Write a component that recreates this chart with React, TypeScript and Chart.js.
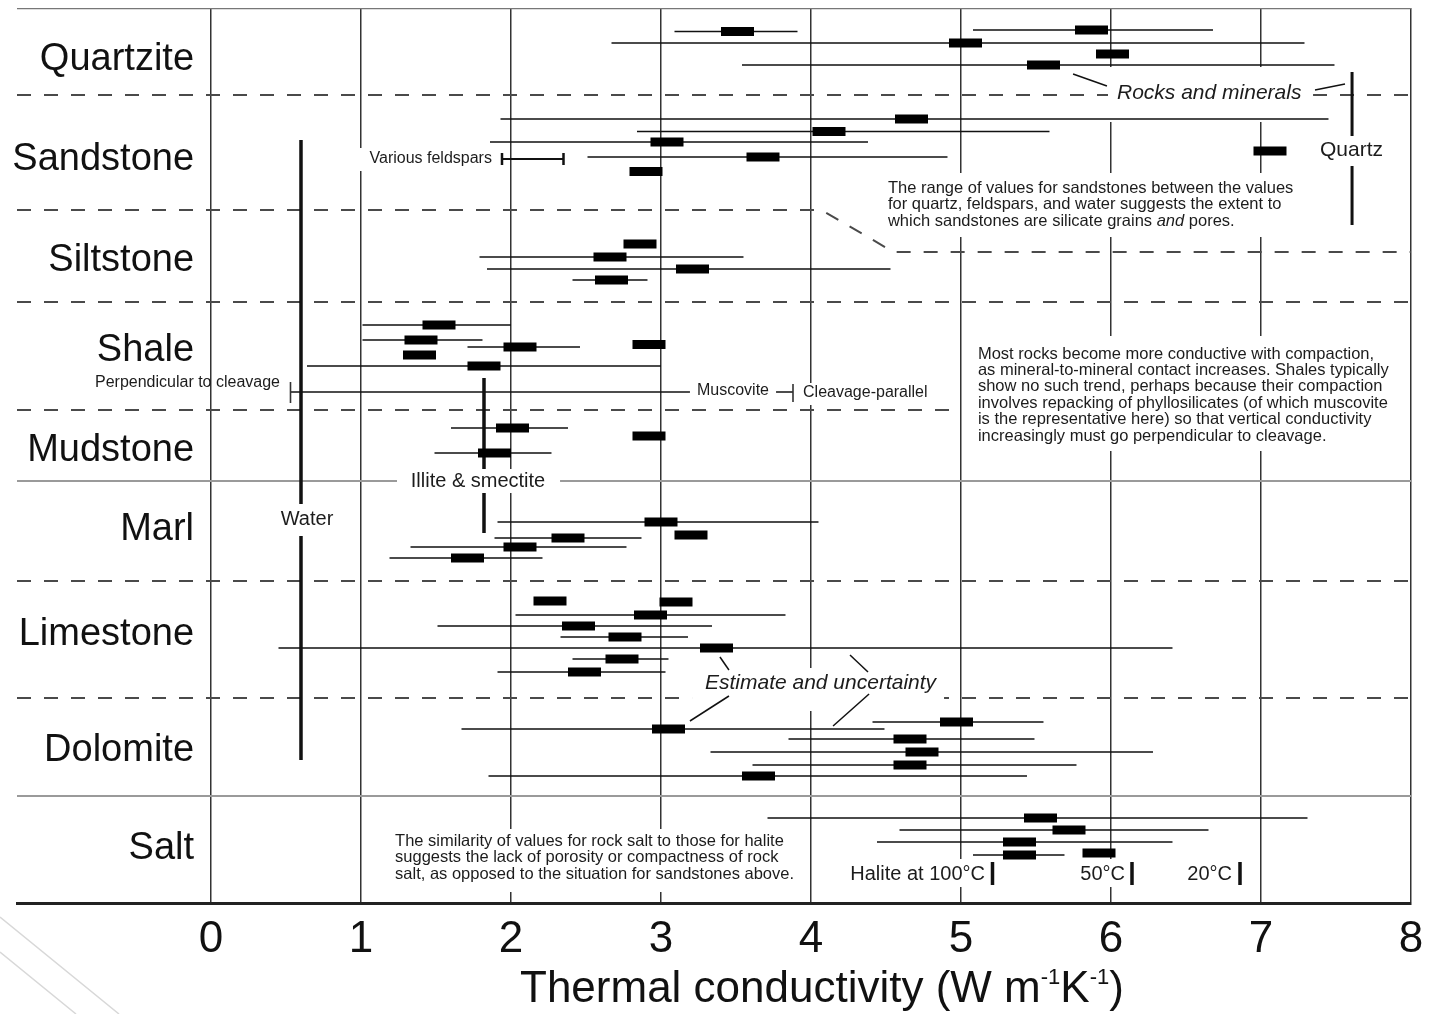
import React, { useEffect, useRef } from 'react';
import { Chart, registerables } from 'chart.js';

Chart.register(...registerables);

const FONT = '"Liberation Sans", Arimo, Arial, Helvetica, sans-serif';
const INK = '#111';
const TEXT = '#1c1c1c';

// ---------- axes ----------
const X_MIN = -1.2933;
const X_MAX = 8;
const Y_MAX = 89.5; // vertical position units (top = 0)
const xTicks = [0, 1, 2, 3, 4, 5, 6, 7, 8];

// ---------- rock categories ----------
const rockNames = ['Quartzite', 'Sandstone', 'Siltstone', 'Shale', 'Mudstone', 'Marl', 'Limestone', 'Dolomite', 'Salt'];
const rockNameRows = [5.2, 15.2, 25.3, 34.3, 44.3, 52.2, 62.7, 74.3, 84.1];

// ---------- measurements (row position, estimate, uncertainty range) ----------
const sampleRows = [2.2, 2.35, 3.5, 4.6, 5.7, 11.1, 12.35, 13.4, 14.9, 16.35, 14.3, 23.6, 24.9, 26.1, 27.2, 31.7, 33.2, 33.65, 33.9, 34.7, 35.8, 42.0, 42.8, 44.5, 51.4, 52.7, 53.0, 53.9, 55.0, 59.3, 59.4, 60.7, 61.8, 62.9, 64.0, 65.1, 66.4, 71.4, 72.1, 73.1, 74.4, 75.7, 76.8, 81.0, 82.2, 83.4, 84.7, 84.5];
const sampleEstimates = [5.87, 3.51, 5.03, 6.01, 5.55, 4.67, 4.12, 3.04, 3.68, 2.90, 7.06, 2.86, 2.66, 3.21, 2.67, 1.52, 1.40, 2.92, 2.06, 1.39, 1.82, 2.01, 2.92, 1.89, 3.00, 3.20, 2.38, 2.06, 1.71, 2.26, 3.10, 2.93, 2.45, 2.76, 3.37, 2.74, 2.49, 4.97, 3.05, 4.66, 4.74, 4.66, 3.65, 5.53, 5.72, 5.39, 5.39, 5.92];
const sampleLow = [5.08, 3.09, 2.67, null, 3.54, 1.93, 2.84, 1.86, 2.51, null, null, null, 1.79, 1.84, 2.41, 1.01, 1.01, null, 1.71, null, 0.64, 1.60, null, 1.49, 1.91, null, 1.89, 1.33, 1.19, null, null, 2.03, 1.51, 2.33, 0.45, 2.41, 1.91, 4.41, 1.67, 3.85, 3.33, 3.61, 1.85, 3.71, 4.59, 4.44, 5.08, null];
const sampleHigh = [6.68, 3.91, 7.29, null, 7.49, 7.45, 5.59, 4.38, 4.91, null, null, null, 3.55, 4.53, 2.91, 2.00, 1.81, null, 2.46, null, 3.00, 2.38, null, 2.27, 4.05, null, 2.87, 2.77, 2.21, null, null, 3.83, 3.34, 3.18, 6.41, 3.05, 3.03, 5.55, 4.49, 5.49, 6.28, 5.77, 5.44, 7.31, 6.65, 6.41, 5.69, null];

// ---------- minerals / references ----------
const waterValue = 0.6;
const waterRows = [13.2, 75.2];
const illiteValue = 1.82;
const illiteRows = [37.0, 52.5];
const quartzBracketValue = 7.607;
const quartzBracketRows = [6.4, 21.7];
const feldsparRange = [1.94, 2.35];
const feldsparRow = 15.1;
const feldsparCapRows = [14.5, 15.7];
const muscoviteRange = [0.53, 3.88];
const muscoviteRow = 38.4;
const muscoviteCapRows = [[37.4, 39.5], [37.6, 39.4]];
const haliteLabels = ['Halite at 100°C', '50°C', '20°C'];
const haliteValues = [5.21, 6.14, 6.86];
const haliteRows = [85.4, 87.7];

// ---------- separators ----------
const dashedSeparators: number[][][] = [
  [[X_MIN, 8.7], [X_MAX, 8.7]],
  [[X_MIN, 20.2], [4.07, 20.2], [4.55, 24.4], [X_MAX, 24.4]],
  [[X_MIN, 29.4], [X_MAX, 29.4]],
  [[X_MIN, 40.2], [4.96, 40.2]],
  [[X_MIN, 57.3], [X_MAX, 57.3]],
  [[X_MIN, 69.0], [X_MAX, 69.0]],
];
const solidSeparatorRows = [47.3, 78.8];
const BOX_HALF = 0.11;

// ---------- annotation layout (value coordinates) ----------
const gridMasks = [
  [5.93, 7.10, 5.9, 11.4],
  [4.46, 7.26, 16.5, 22.9],
  [5.03, 7.95, 32.8, 44.3],
  [1.18, 3.93, 82.1, 88.4],
  [4.18, 6.90, 85.1, 87.9],
  [3.23, 4.89, 66.0, 70.3],
];

type Run = { t: string; italic?: boolean; sup?: boolean };
type Label = { lines: Run[][]; x: number; y: number; align: 'left' | 'right' | 'center'; size: number; gap?: number; bg?: number[] };

const P = (s: string): Run[] => [{ t: s }];

const labels: Label[] = [
  { lines: [[{ t: 'Rocks and minerals', italic: true }]], x: 6.04, y: 8.5, align: 'left', size: 21, bg: [5.98, 7.347, 7.4, 9.8] },
  { lines: [P('Quartz')], x: 7.393, y: 14.2, align: 'left', size: 21, bg: [7.367, 7.847, 12.8, 15.8] },
  { lines: [P('Various feldspars')], x: 1.873, y: 15.1, align: 'right', size: 16, bg: [0.973, 1.907, 14.0, 16.3] },
  { lines: [P('Perpendicular to cleavage')], x: 0.46, y: 37.5, align: 'right', size: 16 },
  { lines: [P('Muscovite')], x: 3.24, y: 38.3, align: 'left', size: 16, bg: [3.193, 3.767, 37.3, 39.4] },
  { lines: [P('Cleavage-parallel')], x: 3.947, y: 38.5, align: 'left', size: 16, bg: [3.913, 4.833, 37.5, 39.7] },
  { lines: [P('Illite & smectite')], x: 1.78, y: 47.3, align: 'center', size: 20, bg: [1.24, 2.327, 46.1, 48.5] },
  { lines: [P('Water')], x: 0.64, y: 51.1, align: 'center', size: 20, bg: [0.44, 0.84, 49.6, 52.8] },
  { lines: [[{ t: 'Estimate and uncertainty', italic: true }]], x: 3.293, y: 67.5, align: 'left', size: 21, bg: [3.207, 4.887, 66.4, 69.7] },
  { lines: [P(haliteLabels[0])], x: 5.16, y: 86.6, align: 'right', size: 20 },
  { lines: [P(haliteLabels[1])], x: 6.093, y: 86.6, align: 'right', size: 20 },
  { lines: [P(haliteLabels[2])], x: 6.807, y: 86.6, align: 'right', size: 20 },
  {
    lines: [
      P('The range of values for sandstones between the values'),
      P('for quartz, feldspars, and water suggests the extent to'),
      [{ t: 'which sandstones are silicate grains ' }, { t: 'and', italic: true }, { t: ' pores.' }],
    ], x: 4.513, y: 18.0, align: 'left', size: 16.5, gap: 1.65,
  },
  {
    lines: [
      P('Most rocks become more conductive with compaction,'),
      P('as mineral-to-mineral contact increases. Shales typically'),
      P('show no such trend, perhaps because their compaction'),
      P('involves repacking of phyllosilicates (of which muscovite'),
      P('is the representative here) so that vertical conductivity'),
      P('increasingly must go perpendicular to cleavage.'),
    ], x: 5.113, y: 34.6, align: 'left', size: 16.5, gap: 1.645,
  },
  {
    lines: [
      P('The similarity of values for rock salt to those for halite'),
      P('suggests the lack of porosity or compactness of rock'),
      P('salt, as opposed to the situation for sandstones above.'),
    ], x: 1.227, y: 83.3, align: 'left', size: 16.5, gap: 1.65,
  },
];

const leaderLines = [
  [5.747, 6.6, 5.973, 7.8],
  [7.36, 8.2, 7.56, 7.6],
  [3.393, 64.9, 3.453, 66.2],
  [4.26, 64.7, 4.38, 66.4],
  [3.453, 68.8, 3.193, 71.3],
  [4.387, 68.6, 4.147, 71.8],
];

const rockNameX = -0.113;
const titleCenterX = 4.073;
const titleRuns: Run[] = [
  { t: 'Thermal conductivity (W m' }, { t: '-1', sup: true }, { t: 'K' }, { t: '-1', sup: true }, { t: ')' },
];

// ---------- helpers ----------
type Pt = { x: number | null; y: number | null };
function gapped(segments: Pt[][]): Pt[] {
  const out: Pt[] = [];
  segments.forEach((s, i) => {
    if (i) out.push({ x: null, y: null });
    out.push(...s);
  });
  return out;
}

function runFont(r: Run, size: number) {
  return `${r.italic ? 'italic ' : ''}${r.sup ? Math.round(size * 0.5) : size}px ${FONT}`;
}

function drawRuns(ctx: CanvasRenderingContext2D, runs: Run[], x: number, y: number, align: string, size: number) {
  let w = 0;
  for (const r of runs) {
    ctx.font = runFont(r, size);
    w += ctx.measureText(r.t).width;
  }
  let cx = align === 'left' ? x : align === 'right' ? x - w : x - w / 2;
  for (const r of runs) {
    ctx.font = runFont(r, size);
    ctx.fillText(r.t, cx, r.sup ? y - size * 0.4 : y);
    cx += ctx.measureText(r.t).width;
  }
}

const annotationPlugin = {
  id: 'annotations',
  beforeDatasetsDraw(chart: any) {
    const { ctx, scales } = chart;
    const xs = scales.x, ys = scales.y;
    ctx.save();
    ctx.fillStyle = '#fff';
    for (const m of gridMasks) {
      const x1 = xs.getPixelForValue(m[0]), x2 = xs.getPixelForValue(m[1]);
      const y1 = ys.getPixelForValue(m[2]), y2 = ys.getPixelForValue(m[3]);
      ctx.fillRect(x1, y1, x2 - x1, y2 - y1);
    }
    ctx.restore();
  },
  afterDatasetsDraw(chart: any) {
    const { ctx, scales } = chart;
    const xs = scales.x, ys = scales.y;
    ctx.save();
    // label backgrounds
    ctx.fillStyle = '#fff';
    for (const l of labels) {
      if (!l.bg) continue;
      const x1 = xs.getPixelForValue(l.bg[0]), x2 = xs.getPixelForValue(l.bg[1]);
      const y1 = ys.getPixelForValue(l.bg[2]), y2 = ys.getPixelForValue(l.bg[3]);
      ctx.fillRect(x1, y1, x2 - x1, y2 - y1);
    }
    // leader lines
    ctx.strokeStyle = INK;
    ctx.lineWidth = 1.5;
    for (const s of leaderLines) {
      ctx.beginPath();
      ctx.moveTo(xs.getPixelForValue(s[0]), ys.getPixelForValue(s[1]));
      ctx.lineTo(xs.getPixelForValue(s[2]), ys.getPixelForValue(s[3]));
      ctx.stroke();
    }
    // labels
    ctx.fillStyle = TEXT;
    ctx.textAlign = 'left';
    ctx.textBaseline = 'middle';
    for (const l of labels) {
      l.lines.forEach((runs, i) => {
        const y = ys.getPixelForValue(l.y + i * (l.gap || 0));
        drawRuns(ctx, runs, xs.getPixelForValue(l.x), y, l.align, l.size);
      });
    }
    // rock names
    ctx.fillStyle = '#111';
    rockNames.forEach((name, i) => {
      drawRuns(ctx, [{ t: name }], xs.getPixelForValue(rockNameX), ys.getPixelForValue(rockNameRows[i]), 'right', 38);
    });
    // axis title
    ctx.textBaseline = 'alphabetic';
    drawRuns(ctx, titleRuns, xs.getPixelForValue(titleCenterX), chart.height - 12, 'center', 44);
    // faint slide decoration in the lower-left corner
    ctx.strokeStyle = '#d8d8d8';
    ctx.lineWidth = 1.5;
    ctx.beginPath();
    ctx.moveTo(0, chart.height - 97);
    ctx.lineTo(119, chart.height);
    ctx.moveTo(0, chart.height - 62);
    ctx.lineTo(76, chart.height);
    ctx.stroke();
    ctx.restore();
  },
};

function lineDs(data: Pt[], color: string, width: number, dash: number[] = []) {
  return {
    type: 'line' as const,
    data,
    borderColor: color,
    backgroundColor: color,
    borderWidth: width,
    borderDash: dash,
    pointRadius: 0,
    pointHoverRadius: 0,
    fill: false,
    tension: 0,
    spanGaps: false,
    borderCapStyle: 'butt' as const,
  };
}

export default function App() {
  const ref = useRef<HTMLCanvasElement>(null);
  useEffect(() => {
    document.body.style.margin = '0';
    const boxes = gapped(sampleRows.map((r, i) => [
      { x: sampleEstimates[i] - BOX_HALF, y: r },
      { x: sampleEstimates[i] + BOX_HALF, y: r },
    ]));
    const ranges = gapped(sampleRows
      .map((r, i) => (sampleLow[i] == null ? null : [{ x: sampleLow[i], y: r }, { x: sampleHigh[i], y: r }]))
      .filter(Boolean) as Pt[][]);
    const mineralRanges = gapped([
      [{ x: muscoviteRange[0], y: muscoviteRow }, { x: muscoviteRange[1], y: muscoviteRow }],
    ]);
    const feldspar = gapped([[{ x: feldsparRange[0], y: feldsparRow }, { x: feldsparRange[1], y: feldsparRow }]]);
    const caps = gapped([
      [{ x: muscoviteRange[0], y: muscoviteCapRows[0][0] }, { x: muscoviteRange[0], y: muscoviteCapRows[0][1] }],
      [{ x: muscoviteRange[1], y: muscoviteCapRows[1][0] }, { x: muscoviteRange[1], y: muscoviteCapRows[1][1] }],
    ]);
    const feldsparCaps = gapped(feldsparRange.map((v) => [{ x: v, y: feldsparCapRows[0] }, { x: v, y: feldsparCapRows[1] }]));
    const thickVerticals = gapped([
      [{ x: waterValue, y: waterRows[0] }, { x: waterValue, y: waterRows[1] }],
      [{ x: illiteValue, y: illiteRows[0] }, { x: illiteValue, y: illiteRows[1] }],
      ...haliteValues.map((v) => [{ x: v, y: haliteRows[0] }, { x: v, y: haliteRows[1] }]),
    ]);
    const quartzBracket = gapped([[{ x: quartzBracketValue, y: quartzBracketRows[0] }, { x: quartzBracketValue, y: quartzBracketRows[1] }]]);
    const solidSeps = gapped(solidSeparatorRows.map((r) => [{ x: X_MIN, y: r }, { x: X_MAX, y: r }]));
    const topBorder = [{ x: X_MIN, y: 0 }, { x: X_MAX, y: 0 }];

    const datasets: any[] = [
      lineDs(boxes, '#000', 9),
      lineDs(thickVerticals, INK, 3.5),
      lineDs(quartzBracket, INK, 3),
      lineDs(feldsparCaps, INK, 2.5),
      lineDs(caps, '#333', 1.6),
      lineDs(feldspar, INK, 2),
      lineDs(mineralRanges, INK, 1.6),
      lineDs(ranges, INK, 1.6),
      ...dashedSeparators.map((s) => lineDs(s.map(([x, y]) => ({ x, y })), '#4a4a4a', 2, [14, 13])),
      lineDs(solidSeps, '#9a9a9a', 2),
      lineDs(topBorder, '#777', 2.5),
    ];

    const chart = new Chart(ref.current as HTMLCanvasElement, {
      type: 'line',
      data: { datasets },
      options: {
        responsive: false,
        animation: false,
        events: [],
        layout: { padding: { left: 17, right: 24, top: 8, bottom: 0 } },
        plugins: { legend: { display: false }, tooltip: { enabled: false }, title: { display: false } },
        scales: {
          x: {
            type: 'linear',
            min: X_MIN,
            max: X_MAX,
            afterBuildTicks: (scale: any) => { scale.ticks = xTicks.map((v) => ({ value: v })); },
            afterFit: (scale: any) => { scale.height = 111; },
            grid: { color: '#333', lineWidth: 1.5, drawTicks: false },
            border: { display: true, color: '#222', width: 3 },
            ticks: {
              autoSkip: false,
              maxRotation: 0,
              padding: 10,
              color: '#111',
              font: { size: 44, family: FONT },
              callback: (v: any) => String(v),
            },
          },
          y: {
            type: 'linear',
            display: false,
            reverse: true,
            min: 0,
            max: Y_MAX,
          },
        },
      },
      plugins: [annotationPlugin],
    } as any);
    return () => chart.destroy();
  }, []);
  return <canvas ref={ref} width={1435} height={1014} style={{ display: 'block' }} />;
}
